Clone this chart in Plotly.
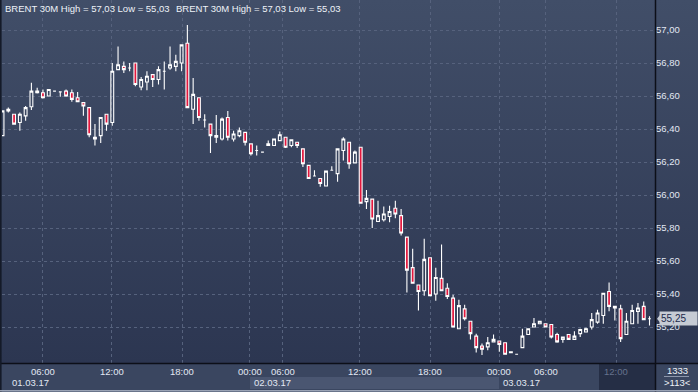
import base64
import plotly.graph_objects as go

# ---------------- data (BRENT 30M candles, index-based) ----------------
open_ = [56.36, 56.52, 56.49, 56.44, 56.48, 56.535, 56.62, 56.62, 56.60, 56.63,
         56.625, 56.63, 56.62, 56.59, 56.56, 56.53, 56.35, 56.36, 56.49, 56.44,
         56.76, 56.78, 56.77, 56.80, 56.655, 56.685, 56.73, 56.70, 56.75, 56.77,
         56.78, 56.80, 56.92, 56.52, 56.59, 56.455, 56.43, 56.35, 56.34, 56.47,
         56.34, 56.36, 56.38, 56.31, 56.27, 56.26, 56.30, 56.30, 56.33, 56.35,
         56.30, 56.32, 56.28, 56.18, 56.115, 56.10, 56.055, 56.15, 56.13, 56.27,
         56.32, 56.195, 56.29, 55.96, 55.975, 55.84, 55.85, 55.87, 55.92, 55.875,
         55.745, 55.56, 55.455, 55.42, 55.62, 55.40, 55.495, 55.435, 55.375, 55.19,
         55.31, 55.235, 55.145, 55.085, 55.08, 55.11, 55.115, 55.105, 55.045, 55.035,
         55.075, 55.155, 55.20, 55.22, 55.22, 55.215, 55.155, 55.125, 55.155, 55.125,
         55.16, 55.17, 55.20, 55.23, 55.27, 55.415, 55.315, 55.31, 55.155, 55.22,
         55.295, 55.325, 55.25]
high = [56.51, 56.53, 56.49, 56.50, 56.54, 56.68, 56.65, 56.64, 56.64, 56.63,
        56.625, 56.64, 56.64, 56.625, 56.56, 56.53, 56.43, 56.47, 56.49, 56.80,
        56.90, 56.81, 56.80, 56.80, 56.715, 56.75, 56.73, 56.78, 56.81, 56.90,
        56.85, 56.91, 57.03, 56.71, 56.59, 56.49, 56.43, 56.485, 56.47, 56.51,
        56.39, 56.41, 56.38, 56.31, 56.30, 56.26, 56.33, 56.34, 56.385, 56.35,
        56.335, 56.32, 56.28, 56.18, 56.15, 56.10, 56.145, 56.175, 56.28, 56.35,
        56.32, 56.27, 56.29, 56.03, 55.975, 55.965, 55.93, 55.935, 55.965, 55.915,
        55.745, 55.675, 55.455, 55.735, 55.62, 55.56, 55.70, 55.465, 55.395, 55.365,
        55.335, 55.235, 55.16, 55.10, 55.14, 55.155, 55.115, 55.105, 55.05, 55.035,
        55.19, 55.19, 55.255, 55.235, 55.22, 55.215, 55.165, 55.14, 55.155, 55.175,
        55.19, 55.195, 55.285, 55.305, 55.405, 55.47, 55.325, 55.335, 55.285, 55.335,
        55.345, 55.355, 55.265]
low = [56.36, 56.50, 56.43, 56.39, 56.45, 56.515, 56.615, 56.585, 56.60, 56.63,
       56.595, 56.595, 56.565, 56.565, 56.48, 56.35, 56.30, 56.315, 56.39, 56.42,
       56.76, 56.74, 56.75, 56.66, 56.635, 56.635, 56.655, 56.67, 56.64, 56.76,
       56.75, 56.75, 56.53, 56.43, 56.45, 56.41, 56.255, 56.315, 56.33, 56.33,
       56.325, 56.35, 56.30, 56.24, 56.24, 56.26, 56.30, 56.30, 56.33, 56.285,
       56.29, 56.285, 56.17, 56.10, 56.115, 56.05, 56.055, 56.15, 56.08, 56.21,
       56.16, 56.195, 55.95, 55.915, 55.80, 55.84, 55.84, 55.835, 55.86, 55.755,
       55.41, 55.465, 55.30, 55.39, 55.39, 55.36, 55.42, 55.37, 55.20, 55.19,
       55.24, 55.125, 55.045, 55.03, 55.06, 55.11, 55.05, 55.035, 55.045, 55.035,
       55.075, 55.155, 55.20, 55.22, 55.20, 55.13, 55.105, 55.105, 55.125, 55.125,
       55.14, 55.17, 55.185, 55.22, 55.22, 55.295, 55.24, 55.11, 55.155, 55.22,
       55.22, 55.245, 55.21]
close = [56.51, 56.51, 56.43, 56.49, 56.53, 56.63, 56.63, 56.59, 56.64, 56.63,
         56.625, 56.60, 56.58, 56.565, 56.54, 56.365, 56.34, 56.47, 56.43, 56.75,
         56.79, 56.76, 56.77, 56.67, 56.70, 56.72, 56.70, 56.76, 56.75, 56.79,
         56.81, 56.91, 56.53, 56.61, 56.47, 56.455, 56.36, 56.36, 56.46, 56.35,
         56.37, 56.39, 56.32, 56.25, 56.27, 56.26, 56.31, 56.34, 56.365, 56.29,
         56.335, 56.30, 56.19, 56.10, 56.115, 56.07, 56.145, 56.15, 56.28, 56.34,
         56.19, 56.26, 55.95, 55.98, 55.855, 55.875, 55.885, 55.90, 55.885, 55.77,
         55.545, 55.465, 55.415, 55.61, 55.39, 55.50, 55.42, 55.385, 55.20, 55.33,
         55.25, 55.16, 55.075, 55.065, 55.105, 55.125, 55.095, 55.035, 55.05, 55.035,
         55.145, 55.19, 55.22, 55.235, 55.20, 55.14, 55.11, 55.14, 55.125, 55.145,
         55.185, 55.19, 55.245, 55.285, 55.405, 55.325, 55.325, 55.13, 55.235, 55.30,
         55.315, 55.245, 55.25]
idx = list(range(len(close)))

time_tick_pos = [7.0, 18.95, 31.07, 42.84, 48.55, 61.88, 74.0, 85.95, 94.08, 106.2]
time_tick_labels = ["06:00", "12:00", "18:00", "00:00", "06:00", "12:00",
                    "18:00", "00:00", "06:00", "12:00"]
day_pos = [1.3, 43.2, 86.3]
day_labels = ["01.03.17", "02.03.17", "03.03.17"]
price_ticks = [55.2, 55.4, 55.6, 55.8, 56.0, 56.2, 56.4, 56.6, 56.8, 57.0]
symbol = "BRENT 30M"
bar_count = "1333"
visible_count = ">113<"

# ---------------- layout geometry ----------------
W, H = 698, 392
ML, MR, MT, MB = 2, 43, 0, 29
PW, PH = W - ML - MR, H - MT - MB


def px(x):
    return (x - ML) / PW


def py(y):
    return 1 - (y - MT) / PH


def fmt(v):
    return f"{v:.2f}".replace(".", ",")


FONT = "Liberation Sans, Arial, sans-serif"
TXT = "#e2e8f3"

fig = go.Figure()
fig.add_trace(go.Candlestick(
    x=idx, open=open_, high=high, low=low, close=close,
    increasing=dict(line=dict(color="#ffffff", width=1.1), fillcolor="rgba(0,0,0,0)"),
    decreasing=dict(line=dict(color="#ffffff", width=1.1), fillcolor="#e3173d"),
    whiskerwidth=0, showlegend=False, hoverinfo="skip",
))

# background gradient as svg image
svg = ('<svg xmlns="http://www.w3.org/2000/svg" width="10" height="100" preserveAspectRatio="none">'
       '<defs><linearGradient id="g" x1="0" y1="0" x2="0" y2="1">'
       '<stop offset="0" stop-color="#414e68"/><stop offset="1" stop-color="#2c3651"/>'
       '</linearGradient></defs><rect width="10" height="100" fill="url(#g)"/></svg>')
src = "data:image/svg+xml;base64," + base64.b64encode(svg.encode()).decode()

ann = []
title = f"{symbol} High = {fmt(max(high))} Low = {fmt(min(low))}"
for xx in (3, 174):
    ann.append(dict(xref="paper", yref="paper", x=px(xx), y=py(8), text=title,
                    xanchor="left", yanchor="middle", showarrow=False,
                    font=dict(family=FONT, size=9.5, color="#eef2f8")))
for i, (p, t) in enumerate(zip(time_tick_pos, time_tick_labels)):
    ann.append(dict(xref="x", yref="paper", x=p, y=py(371.5), text=t,
                    xanchor="center", yanchor="middle", showarrow=False,
                    font=dict(family=FONT, size=9.5,
                              color="#66728d" if i == len(time_tick_pos) - 1 else TXT)))
for p, t in zip(day_pos, day_labels):
    ann.append(dict(xref="x", yref="paper", x=p, y=py(382.5), text=t,
                    xanchor="left", yanchor="middle", showarrow=False,
                    font=dict(family=FONT, size=9.5, color=TXT)))
ann.append(dict(xref="paper", yref="paper", x=px(677), y=py(370.5), text=bar_count,
                xanchor="center", yanchor="middle", showarrow=False,
                font=dict(family=FONT, size=9.5, color="#eef2f8")))
ann.append(dict(xref="paper", yref="paper", x=px(677), y=py(382.5), text=visible_count,
                xanchor="center", yanchor="middle", showarrow=False,
                font=dict(family=FONT, size=9.5, color="#eef2f8")))
ann.append(dict(xref="paper", yref="y", x=px(659), y=close[-1], text=fmt(close[-1]),
                xanchor="left", yanchor="middle", showarrow=False,
                bgcolor="#c6cbd4", borderpad=1, width=35, align="left",
                font=dict(family=FONT, size=10, color="#1c2a4c")))

shapes = [
    # day band in date row
    dict(type="rect", xref="x", yref="paper", x0=time_tick_pos[3], x1=time_tick_pos[7],
         y0=py(389), y1=py(377), fillcolor="#4a5671", line=dict(width=0), layer="below"),
    # dark box at right of time strip
    dict(type="rect", xref="paper", yref="paper", x0=px(599), x1=px(655),
         y0=py(390), y1=py(364), fillcolor="#252e45", line=dict(width=0), layer="below"),
    # horizontal separator under plot
    dict(type="line", xref="paper", yref="paper", x0=px(0), x1=px(698),
         y0=py(363.5), y1=py(363.5), line=dict(color="#0c0f18", width=1.5)),
    # vertical separator right of plot
    dict(type="line", xref="paper", yref="paper", x0=px(655.5), x1=px(655.5),
         y0=py(0), y1=py(392), line=dict(color="#0c0f18", width=1.5)),
    # left border
    dict(type="line", xref="paper", yref="paper", x0=px(0.8), x1=px(0.8),
         y0=py(0), y1=py(392), line=dict(color="#141a28", width=1.6)),
    # bottom light edge
    dict(type="line", xref="paper", yref="paper", x0=px(0), x1=px(698),
         y0=py(390.8), y1=py(390.8), line=dict(color="#9aa3b5", width=1.5)),
    # small separator in count box
    dict(type="line", xref="paper", yref="paper", x0=px(664), x1=px(689),
         y0=py(376.5), y1=py(376.5), line=dict(color="#8d97ab", width=1)),
    # price tag arrow
    dict(type="path", xref="paper", yref="y", xsizemode="pixel", ysizemode="pixel",
         xanchor=px(657), yanchor=close[-1], path="M 0,0 L 4,5 L 4,-5 Z",
         fillcolor="#c6cbd4", line=dict(width=0)),
]

fig.update_layout(
    width=W, height=H,
    margin=dict(l=ML, r=MR, t=MT, b=MB, pad=0),
    paper_bgcolor="#3a4660",
    plot_bgcolor="rgba(0,0,0,0)",
    separators=", ",
    showlegend=False,
    images=[dict(source=src, xref="paper", yref="paper", x=px(0), y=py(0),
                 sizex=px(698) - px(0), sizey=py(0) - py(363),
                 xanchor="left", yanchor="top", sizing="stretch", layer="below")],
    xaxis=dict(range=[-0.09, 112.95], tickvals=time_tick_pos, showticklabels=False,
               showgrid=True, gridcolor="#56627d", griddash="3px,3px", gridwidth=1,
               zeroline=False, showline=False, rangeslider=dict(visible=False),
               ticks=""),
    yaxis=dict(range=[54.982, 57.182], side="right", tickvals=price_ticks,
               tickformat=".2f", showgrid=True, gridcolor="#56627d",
               griddash="3px,3px", gridwidth=1, zeroline=False, showline=False,
               ticks="", tickfont=dict(family=FONT, size=9.5, color=TXT)),
    annotations=ann,
    shapes=shapes,
)

fig.write_html("out.html", config={"displayModeBar": False},
               post_script="document.body.style.margin='0';document.body.style.overflow='hidden';")
